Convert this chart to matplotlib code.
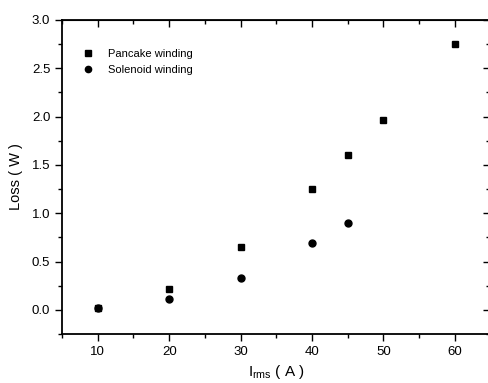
import matplotlib
matplotlib.use("Agg")
import matplotlib.pyplot as plt
from matplotlib.ticker import MultipleLocator

matplotlib.rc("font", **{"family": "Liberation Sans", "size": 9})

# data
pancake_i = [10, 20, 30, 40, 45, 50, 60]
pancake_loss = [0.02, 0.22, 0.65, 1.25, 1.60, 1.96, 2.75]
solenoid_i = [10, 20, 30, 40, 45]
solenoid_loss = [0.02, 0.11, 0.33, 0.69, 0.90]

fig = plt.figure(figsize=(4.89, 3.83), dpi=100)
ax = fig.add_axes([0.127, 0.128, 0.876, 0.82])

ax.plot(pancake_i, pancake_loss, "s", color="black", markersize=5,
        label="Pancake winding")
ax.plot(solenoid_i, solenoid_loss, "o", color="black", markersize=5,
        label="Solenoid winding")

ax.set_xlim(5, 65)
ax.set_ylim(-0.25, 3.0)
ax.xaxis.set_major_locator(MultipleLocator(10))
ax.xaxis.set_minor_locator(MultipleLocator(5))
ax.yaxis.set_major_locator(MultipleLocator(0.5))
ax.yaxis.set_minor_locator(MultipleLocator(0.25))
ax.yaxis.set_major_formatter(matplotlib.ticker.FormatStrFormatter("%.1f"))

ax.tick_params(which="both", direction="out", top=False, right=False, width=1)
ax.tick_params(which="major", length=5, labelsize=9.5)
ax.tick_params(which="minor", length=3)
for s in ax.spines.values():
    s.set_linewidth(1.3)

# inward ticks on top and right
sec_x = ax.secondary_xaxis("top")
sec_x.xaxis.set_major_locator(MultipleLocator(10))
sec_x.xaxis.set_minor_locator(MultipleLocator(5))
sec_x.tick_params(which="both", direction="in", labeltop=False, width=1)
sec_x.tick_params(which="major", length=5)
sec_x.tick_params(which="minor", length=3)
sec_y = ax.secondary_yaxis("right")
sec_y.yaxis.set_major_locator(MultipleLocator(0.5))
sec_y.yaxis.set_minor_locator(MultipleLocator(0.25))
sec_y.tick_params(which="both", direction="in", labelright=False, width=1)
sec_y.tick_params(which="major", length=5)
sec_y.tick_params(which="minor", length=3)

ax.set_xlabel(r"I$_{\mathregular{rms}}$ ( A )", fontsize=11, labelpad=4)
ax.set_ylabel("Loss ( W )", fontsize=10.5, labelpad=6)

ax.legend(loc="upper left", bbox_to_anchor=(0.025, 0.94), frameon=False,
          fontsize=8, handletextpad=1.3, labelspacing=0.55, handlelength=1.0,
          markerscale=0.9)

fig.savefig("out.png", dpi=100)
